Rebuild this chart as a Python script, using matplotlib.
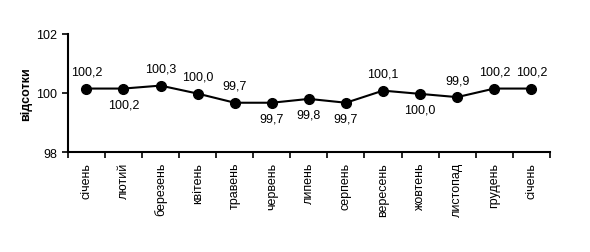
import matplotlib
matplotlib.use("Agg")
import matplotlib.pyplot as plt
import numpy as np

months = ["січень", "лютий", "березень", "квітень", "травень", "червень", "липень",
          "серпень", "вересень", "жовтень", "листопад", "грудень", "січень"]
values = [100.15, 100.15, 100.25, 99.98, 99.67, 99.67, 99.8, 99.67, 100.08, 99.97, 99.86, 100.15, 100.15]
labels = ["100,2", "100,2", "100,3", "100,0", "99,7", "99,7", "99,8", "99,7", "100,1", "100,0", "99,9", "100,2", "100,2"]
above = [True, False, True, True, True, False, False, False, True, False, True, True, True]

plt.rcParams['font.family'] = ['Liberation Sans', 'DejaVu Sans']

fig = plt.figure(figsize=(5.9, 2.53), dpi=100)
ax = fig.add_axes([0.115, 0.395, 0.817, 0.467])
x = np.arange(len(months))
ax.plot(x, values, color='black', lw=1.5, marker='o', ms=7, mfc='black', mec='black')
for xi, v, lab, a in zip(x, values, labels, above):
    ax.annotate(lab, (xi, v), xytext=(0, 8 if a else -7), textcoords='offset points',
                ha='center', va='bottom' if a else 'top', fontsize=9)
ax.set_xlim(-0.5, len(months) - 0.5)
ax.set_ylim(98, 102)
ax.set_yticks([98, 100, 102])
ax.set_yticklabels(["98", "100", "102"], fontsize=9)
ax.set_xticks(x)
ax.set_xticklabels(months, rotation=90, fontsize=9)
ax.set_xticks(np.arange(len(months) + 1) - 0.5, minor=True)
ax.tick_params(axis='x', which='major', length=0, pad=7)
ax.tick_params(axis='x', which='minor', length=4, width=1.2, direction='out')
ax.tick_params(axis='y', length=4, width=1.2, direction='out')
for s in ['top', 'right']:
    ax.spines[s].set_visible(False)
for s in ['left', 'bottom']:
    ax.spines[s].set_linewidth(1.5)
ax.set_ylabel("відсотки", fontsize=9, fontweight='bold', labelpad=3)
fig.savefig("out.png", dpi=100)
